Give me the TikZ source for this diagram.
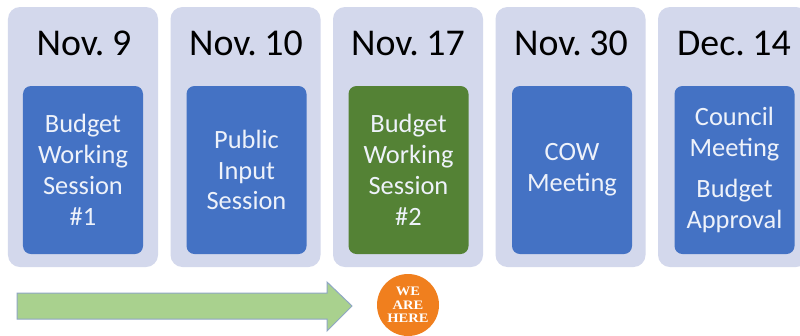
\documentclass[tikz,border=0pt]{standalone}
\usepackage{fontspec}
\setmainfont{Carlito}
\newfontfamily\badgefont[FakeStretch=1.12]{Liberation Serif}
\definecolor{cardbg}{HTML}{D3D8EC}
\definecolor{boxblue}{HTML}{4472C4}
\definecolor{boxgreen}{HTML}{548235}
\definecolor{boxtext}{HTML}{EEF2FA}
\definecolor{arrowfill}{HTML}{A9D18E}
\definecolor{arrowline}{HTML}{8FA6C4}
\definecolor{badge}{HTML}{F07F1E}
\begin{document}
\begin{tikzpicture}[x=1bp,y=-1bp,
  card/.style={fill=cardbg, rounded corners=12bp, minimum width=150bp, minimum height=260bp, inner sep=0pt},
  datelabel/.style={anchor=base, inner sep=0pt, font=\fontsize{38}{40}\selectfont, text=black},
  event/.style={rounded corners=8bp, minimum width=120bp, minimum height=168bp, inner sep=0pt, text=boxtext, align=center, font=\fontsize{26.5}{31}\selectfont},
  blueevent/.style={event, fill=boxblue},
  greenevent/.style={event, fill=boxgreen},
]
\useasboundingbox (0,0) rectangle (800,335);
\clip (0,0) rectangle (800,335);
\fill[white] (0,0) rectangle (800,335);

\foreach \i/\x in {1/83,2/245.5,3/408,4/570.5,5/733}{
  \node[card] (card\i) at (\x,137) {};
}
\node[datelabel] (date1) at (84,55) {Nov.\hspace{0.2em}9};
\node[datelabel] (date2) at (246,55) {Nov.\hspace{0.2em}10};
\node[datelabel] (date3) at (408,55) {Nov.\hspace{0.2em}17};
\node[datelabel] (date4) at (571,55) {Nov.\hspace{0.2em}30};
\node[datelabel] (date5) at (734,55) {Dec.\hspace{0.2em}14};

\node[blueevent] (ev1) at (83,170) {Budget\\Working\\Session\\\#1};
\node[blueevent] (ev2) at (246.5,170) {Public\\Input\\Session};
\node[greenevent] (ev3) at (408.5,170) {Budget\\Working\\Session\\\#2};
\node[blueevent] (ev4) at (572,170) {COW\\Meeting};
\node[blueevent] (ev5) at (734.5,170) {Council\\Meeting\\[11bp]Budget\\Approval};

\draw[fill=arrowfill, draw=arrowline, line width=1bp]
  (17,293) -- (327,293) -- (327,282) -- (352,306) -- (327,331) -- (327,319) -- (17,319) -- cycle;

\node[circle, fill=badge, minimum size=62bp, inner sep=0pt, text=white, align=center,
  font=\badgefont\bfseries\fontsize{13}{13.5}\selectfont] (here) at (408,305) {WE\\ARE\\HERE};
\end{tikzpicture}
\end{document}
